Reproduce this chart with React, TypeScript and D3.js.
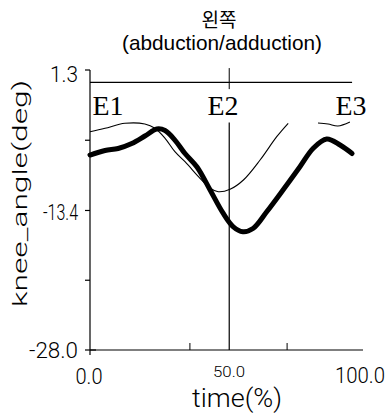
import React from "react";
import * as d3 from "d3";

const titleLines = ["왼쪽", "(abduction/adduction)"];
const yLabel = "knee_angle(deg)";
const xLabel = "time(%)";
const yTicks = [1.3, -6.05, -13.4, -20.7, -28.0];
const yTickLabels = ["1.3", "", "-13.4", "", "-28.0"];
const xMinorTicks = [36.6, 72.2];
const xTickLabels = ["0.0", "50.0", "100.0"];
const xTickValues = [0, 50, 100];
const events = ["E1", "E2", "E3"];
const eventTimes = [0, 51, 100];

const thickT = [0, 5.5, 10.3, 15.3, 20.1, 24.5, 27.5, 31.1, 34.8, 39.2, 44, 48.7, 52.4, 56, 59.7, 64.8, 70.7, 76.9, 81.7, 86.7, 91.6, 96];
const thickV = [-7.6, -7.12, -6.91, -6.39, -5.61, -4.87, -5.03, -6.03, -7.44, -8.85, -11.26, -13.66, -15.08, -15.62, -15.29, -13.51, -11.26, -8.82, -6.91, -5.92, -6.55, -7.44];

const thinT = [0, 5.5, 12.8, 20.1, 23.8, 27.5, 31.1, 34.8, 40.3, 44, 47, 51.3, 56.2, 62.3, 68.4, 72.6, 78, 83.5, 87.2, 90.8, 95.2];
const thinV = [-5.16, -4.8, -4.28, -4.35, -4.8, -5.85, -7.25, -8.3, -10.03, -11.08, -11.44, -11.18, -10.21, -8.12, -5.68, -4.28, null, -4.25, -4.35, -4.56, -4.14];

export default function App() {
  const x = d3.scaleLinear().domain([0, 100]).range([90, 363]);
  const y = d3.scaleLinear().domain([-28.0, 1.3]).range([350, 70]);

  const thick = thickT.map((t, i) => [t, thickV[i]] as [number, number | null]);
  const thin = thinT.map((t, i) => [t, thinV[i]] as [number, number | null]);
  const line = d3
    .line<[number, number | null]>()
    .defined((d) => d[1] !== null)
    .x((d) => x(d[0]))
    .y((d) => y(d[1] as number))
    .curve(d3.curveCatmullRom);

  const sans = "'Liberation Sans', Arial, sans-serif";
  const light = "Roboto, 'Liberation Sans', Arial, sans-serif";
  const serif = "'Liberation Serif', 'Times New Roman', serif";

  const yLabelLen = [28, 0, 35, 0, 49];
  const yLabelBase = [82, 0, 220, 0, 358];
  const xLabelX = [89, 229, 360];
  const xLabelY = [384, 377, 383];
  const xLabelFs = [22, 14, 22];
  const xLabelLen = [27, 32, 50];
  const eventX = [108, 223, 351];

  return (
    <svg width={389} height={418} style={{ position: "absolute", left: 0, top: 0, background: "#fff" }}>
      {/* title */}
      <text x={219} y={27} textAnchor="middle" fontFamily="'Noto Sans CJK KR', sans-serif" fontSize={19}>{titleLines[0]}</text>
      <text x={222} y={50} textAnchor="middle" fontFamily={sans} fontSize={21} textLength={200} lengthAdjust="spacingAndGlyphs">{titleLines[1]}</text>

      {/* y label */}
      <text transform={`translate(27,193.5) scale(0.7,1) rotate(-90)`} textAnchor="middle" fontFamily={light} fontWeight={300} fontSize={29} textLength={227} lengthAdjust="spacingAndGlyphs">{yLabel}</text>

      {/* y axis */}
      <line x1={x(0)} x2={x(0)} y1={y(1.3)} y2={y(-28)} stroke="#000" strokeWidth={1.2} />
      {yTicks.map((v, i) => (
        <g key={"yt" + i}>
          <line x1={x(0) - 5} x2={i === yTicks.length - 1 ? x(0) + 6 : x(0)} y1={y(v)} y2={y(v)} stroke="#000" strokeWidth={1.2} />
          {yTickLabels[i] && (
            <text x={78} y={yLabelBase[i]} textAnchor="end" fontFamily={light} fontWeight={300} fontSize={22} textLength={yLabelLen[i]} lengthAdjust="spacingAndGlyphs">{yTickLabels[i]}</text>
          )}
        </g>
      ))}

      {/* x axis */}
      <line x1={x(0)} x2={x(100)} y1={y(-28)} y2={y(-28)} stroke="#000" strokeWidth={1.2} />
      <line x1={x(0)} x2={x(0)} y1={y(-28)} y2={y(-28) + 5} stroke="#000" strokeWidth={1.2} />
      {xMinorTicks.map((t, i) => (
        <line key={"xm" + i} x1={x(t)} x2={x(t)} y1={y(-28)} y2={y(-28) - 7} stroke="#000" strokeWidth={1} />
      ))}
      {xTickValues.map((t, i) => (
        <text
          key={"xl" + i}
          x={xLabelX[i]}
          y={xLabelY[i]}
          textAnchor="middle"
          fontFamily={light}
          fontWeight={300}
          fontSize={xLabelFs[i]}
          textLength={xLabelLen[i]}
          lengthAdjust="spacingAndGlyphs"
        >
          {xTickLabels[i]}
        </text>
      ))}
      <text x={237} y={407} textAnchor="middle" fontFamily={light} fontWeight={300} fontSize={25} textLength={90} lengthAdjust="spacingAndGlyphs">{xLabel}</text>

      {/* zero line */}
      <line x1={x(0)} x2={x(96)} y1={y(0)} y2={y(0)} stroke="#000" strokeWidth={1.2} />

      {/* event lines */}
      <line x1={x(eventTimes[1])} x2={x(eventTimes[1])} y1={y(1.5)} y2={y(-0.7)} stroke="#000" strokeWidth={1} />
      <line x1={x(eventTimes[1])} x2={x(eventTimes[1])} y1={y(-4.2)} y2={y(-28)} stroke="#000" strokeWidth={1.2} />

      {/* event labels */}
      {events.map((e, i) => (
        <text key={e} x={eventX[i]} y={115} textAnchor="middle" fontFamily={serif} fontSize={28} textLength={31} lengthAdjust="spacingAndGlyphs">{e}</text>
      ))}

      {/* curves */}
      <path d={line(thin) || ""} fill="none" stroke="#000" strokeWidth={1.1} />
      <path d={line(thick) || ""} fill="none" stroke="#000" strokeWidth={5} strokeLinejoin="round" strokeLinecap="round" />
    </svg>
  );
}
